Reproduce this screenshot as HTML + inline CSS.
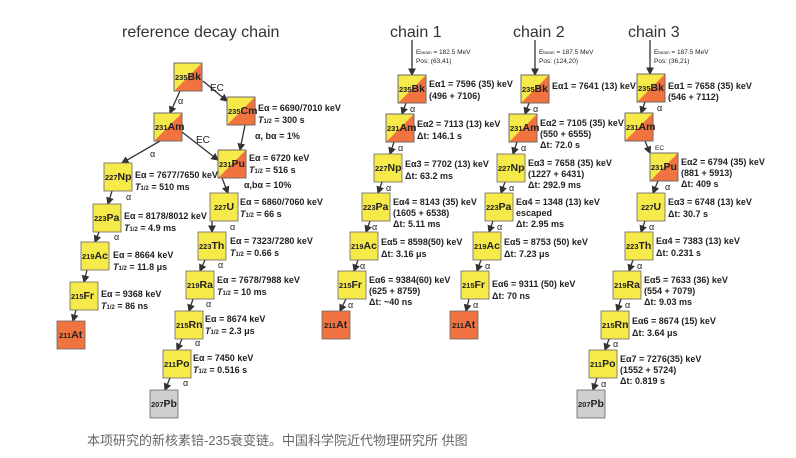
<!DOCTYPE html>
<html><head><meta charset="utf-8"><style>
body{margin:0;background:#fff;width:796px;height:458px;overflow:hidden}
svg{display:block}
text{font-family:"Liberation Sans",Arial,sans-serif;fill:#222}
.t{font-size:9px;font-weight:bold}
.s{font-size:6px}
.b{font-size:6.5px}
.h{font-size:16px;fill:#333}
.m{font-size:7.5px;font-weight:bold}
.e{font-size:10.5px;font-weight:bold}
.a{font-size:9px}
line{stroke:#333;stroke-width:1.3}
.y{fill:#f6e94a;stroke:#666;stroke-width:.8}
.o{fill:#f07340}
</style></head><body>
<svg width="796" height="458" viewBox="0 0 796 458">
<defs>
<marker id="ar" markerWidth="6" markerHeight="6" refX="5" refY="3" orient="auto"><path d="M0,0 L6,3 L0,6z" fill="#333"/></marker>
<g id="sp"><rect class="y" width="28" height="28"/><polygon class="o" points="28,0 28,28 0,28"/><rect width="28" height="28" fill="none" stroke="#666" stroke-width=".8"/></g>
<g id="ye"><rect class="y" width="28" height="28"/></g>
<g id="or"><rect width="28" height="28" fill="#f07340" stroke="#666" stroke-width=".8"/></g>
<g id="gr"><rect width="28" height="28" fill="#cfcfcf" stroke="#666" stroke-width=".8"/></g>
</defs>

<text class="h" x="122" y="37">reference decay chain</text>
<text class="h" x="390" y="37">chain 1</text>
<text class="h" x="513" y="37">chain 2</text>
<text class="h" x="628" y="37">chain 3</text>

<g marker-end="url(#ar)">
<line x1="180" y1="91" x2="170" y2="113"/>
<line x1="203" y1="81" x2="227" y2="101"/>
<line x1="245" y1="125" x2="240" y2="150"/>
<line x1="160" y1="141" x2="122" y2="163"/>
<line x1="182" y1="132" x2="218" y2="160"/>
<line x1="222" y1="178" x2="228" y2="193"/>
<line x1="112" y1="191" x2="108" y2="204"/>
<line x1="212" y1="221" x2="212" y2="232"/>
<line x1="99" y1="232" x2="95" y2="242"/>
<line x1="205" y1="260" x2="200" y2="271"/>
<line x1="87" y1="270" x2="84" y2="282"/>
<line x1="193" y1="299" x2="189" y2="311"/>
<line x1="76" y1="310" x2="73" y2="321"/>
<line x1="182" y1="339" x2="177" y2="350"/>
<line x1="170" y1="378" x2="165" y2="390"/>
</g>
<text class="a" x="178" y="104">α</text><text class="a" x="210" y="91" style="font-size:10px">EC</text>
<text class="a" x="150" y="157">α</text><text class="a" x="196" y="143" style="font-size:10px">EC</text>
<text class="t" x="255" y="139">α, bα = 1%</text>
<text class="t" x="244" y="188">α,bα = 10%</text>
<text class="a" x="126" y="200">α</text><text class="a" x="114" y="240">α</text>
<text class="a" x="230" y="230">α</text><text class="a" x="218" y="268">α</text>
<text class="a" x="206" y="307">α</text><text class="a" x="195" y="346">α</text>
<text class="a" x="183" y="386">α</text>

<use href="#sp" x="174" y="63"/><text x="175" y="80"><tspan class="m">235</tspan><tspan class="e">Bk</tspan></text>
<use href="#sp" x="227" y="97"/><text x="228" y="114"><tspan class="m">235</tspan><tspan class="e">Cm</tspan></text>
<use href="#sp" x="154" y="113"/><text x="155" y="130"><tspan class="m">231</tspan><tspan class="e">Am</tspan></text>
<use href="#sp" x="218" y="150"/><text x="219" y="167"><tspan class="m">231</tspan><tspan class="e">Pu</tspan></text>
<use href="#ye" x="104" y="163"/><text x="105" y="180"><tspan class="m">227</tspan><tspan class="e">Np</tspan></text>
<use href="#ye" x="210" y="193"/><text x="214" y="210"><tspan class="m">227</tspan><tspan class="e">U</tspan></text>
<use href="#ye" x="93" y="204"/><text x="94" y="221"><tspan class="m">223</tspan><tspan class="e">Pa</tspan></text>
<use href="#ye" x="198" y="232"/><text x="199" y="249"><tspan class="m">223</tspan><tspan class="e">Th</tspan></text>
<use href="#ye" x="81" y="242"/><text x="82" y="259"><tspan class="m">219</tspan><tspan class="e">Ac</tspan></text>
<use href="#ye" x="186" y="271"/><text x="187" y="288"><tspan class="m">219</tspan><tspan class="e">Ra</tspan></text>
<use href="#ye" x="70" y="282"/><text x="71" y="299"><tspan class="m">215</tspan><tspan class="e">Fr</tspan></text>
<use href="#ye" x="175" y="311"/><text x="176" y="328"><tspan class="m">215</tspan><tspan class="e">Rn</tspan></text>
<use href="#or" x="57" y="321"/><text x="59" y="338"><tspan class="m">211</tspan><tspan class="e">At</tspan></text>
<use href="#ye" x="163" y="350"/><text x="164" y="367"><tspan class="m">211</tspan><tspan class="e">Po</tspan></text>
<use href="#gr" x="150" y="390"/><text x="151" y="407"><tspan class="m">207</tspan><tspan class="e">Pb</tspan></text>

<g class="t">
<text x="258" y="111">Eα = 6690/7010 keV</text><text x="258" y="123"><tspan font-style="italic">T</tspan><tspan class="s">1/2</tspan> = 300 s</text>
<text x="249" y="161">Eα = 6720 keV</text><text x="249" y="173"><tspan font-style="italic">T</tspan><tspan class="s">1/2</tspan> = 516 s</text>
<text x="135" y="178">Eα = 7677/7650 keV</text><text x="135" y="190"><tspan font-style="italic">T</tspan><tspan class="s">1/2</tspan> = 510 ms</text>
<text x="240" y="205">Eα = 6860/7060 keV</text><text x="240" y="217"><tspan font-style="italic">T</tspan><tspan class="s">1/2</tspan> = 66 s</text>
<text x="124" y="219">Eα = 8178/8012 keV</text><text x="124" y="231"><tspan font-style="italic">T</tspan><tspan class="s">1/2</tspan> = 4.9 ms</text>
<text x="230" y="244">Eα = 7323/7280 keV</text><text x="230" y="256"><tspan font-style="italic">T</tspan><tspan class="s">1/2</tspan> = 0.66 s</text>
<text x="113" y="258">Eα = 8664 keV</text><text x="113" y="270"><tspan font-style="italic">T</tspan><tspan class="s">1/2</tspan> = 11.8 μs</text>
<text x="217" y="283">Eα = 7678/7988 keV</text><text x="217" y="295"><tspan font-style="italic">T</tspan><tspan class="s">1/2</tspan> = 10 ms</text>
<text x="101" y="297">Eα = 9368 keV</text><text x="101" y="309"><tspan font-style="italic">T</tspan><tspan class="s">1/2</tspan> = 86 ns</text>
<text x="205" y="322">Eα = 8674 keV</text><text x="205" y="334"><tspan font-style="italic">T</tspan><tspan class="s">1/2</tspan> = 2.3 μs</text>
<text x="193" y="361">Eα = 7450 keV</text><text x="193" y="373"><tspan font-style="italic">T</tspan><tspan class="s">1/2</tspan> = 0.516 s</text>
</g>

<g marker-end="url(#ar)">
<line x1="412" y1="40" x2="412" y2="75"/>
<line x1="535" y1="40" x2="535" y2="75"/>
<line x1="650" y1="40" x2="650" y2="74"/>
</g>
<text class="b" x="416" y="54">E<tspan font-size="4.5">beam</tspan> = 182.5 MeV</text><text class="b" x="416" y="63">Pos: (63,41)</text>
<text class="b" x="539" y="54">E<tspan font-size="4.5">beam</tspan> = 187.5 MeV</text><text class="b" x="539" y="63">Pos: (124,20)</text>
<text class="b" x="654" y="54">E<tspan font-size="4.5">beam</tspan> = 187.5 MeV</text><text class="b" x="654" y="63">Pos: (36,21)</text>

<g marker-end="url(#ar)">
<line x1="406" y1="103" x2="402" y2="114"/><line x1="394" y1="142" x2="390" y2="154"/><line x1="382" y1="182" x2="378" y2="193"/><line x1="370" y1="221" x2="366" y2="232"/><line x1="358" y1="260" x2="354" y2="271"/><line x1="346" y1="299" x2="340" y2="311"/>
<line x1="529" y1="103" x2="525" y2="114"/><line x1="517" y1="142" x2="513" y2="154"/><line x1="505" y1="182" x2="501" y2="193"/><line x1="493" y1="221" x2="489" y2="232"/><line x1="481" y1="260" x2="477" y2="271"/><line x1="469" y1="299" x2="466" y2="311"/>
<line x1="645" y1="102" x2="641" y2="113"/><line x1="645" y1="141" x2="650" y2="153"/><line x1="658" y1="181" x2="653" y2="193"/><line x1="645" y1="221" x2="641" y2="232"/><line x1="633" y1="260" x2="629" y2="271"/><line x1="621" y1="299" x2="617" y2="311"/><line x1="609" y1="339" x2="605" y2="350"/><line x1="597" y1="378" x2="593" y2="390"/>
</g>
<g class="a">
<text x="410" y="112">α</text><text x="398" y="151">α</text><text x="386" y="191">α</text><text x="372" y="230">α</text><text x="360" y="269">α</text><text x="348" y="308">α</text>
<text x="533" y="112">α</text><text x="521" y="151">α</text><text x="509" y="191">α</text><text x="497" y="230">α</text><text x="485" y="269">α</text><text x="473" y="308">α</text>
<text x="657" y="111">α</text><text x="655" y="150" class="b">EC</text><text x="665" y="190">α</text><text x="649" y="230">α</text><text x="637" y="269">α</text><text x="625" y="308">α</text><text x="613" y="347">α</text><text x="601" y="387">α</text>
</g>

<use href="#sp" x="398" y="75"/><text x="399" y="92"><tspan class="m">235</tspan><tspan class="e">Bk</tspan></text>
<use href="#sp" x="386" y="114"/><text x="387" y="131"><tspan class="m">231</tspan><tspan class="e">Am</tspan></text>
<use href="#ye" x="374" y="154"/><text x="375" y="171"><tspan class="m">227</tspan><tspan class="e">Np</tspan></text>
<use href="#ye" x="362" y="193"/><text x="363" y="210"><tspan class="m">223</tspan><tspan class="e">Pa</tspan></text>
<use href="#ye" x="350" y="232"/><text x="351" y="249"><tspan class="m">219</tspan><tspan class="e">Ac</tspan></text>
<use href="#ye" x="338" y="271"/><text x="339" y="288"><tspan class="m">215</tspan><tspan class="e">Fr</tspan></text>
<use href="#or" x="322" y="311"/><text x="324" y="328"><tspan class="m">211</tspan><tspan class="e">At</tspan></text>
<use href="#sp" x="521" y="75"/><text x="522" y="92"><tspan class="m">235</tspan><tspan class="e">Bk</tspan></text>
<use href="#sp" x="509" y="114"/><text x="510" y="131"><tspan class="m">231</tspan><tspan class="e">Am</tspan></text>
<use href="#ye" x="497" y="154"/><text x="498" y="171"><tspan class="m">227</tspan><tspan class="e">Np</tspan></text>
<use href="#ye" x="485" y="193"/><text x="486" y="210"><tspan class="m">223</tspan><tspan class="e">Pa</tspan></text>
<use href="#ye" x="473" y="232"/><text x="474" y="249"><tspan class="m">219</tspan><tspan class="e">Ac</tspan></text>
<use href="#ye" x="461" y="271"/><text x="462" y="288"><tspan class="m">215</tspan><tspan class="e">Fr</tspan></text>
<use href="#or" x="450" y="311"/><text x="452" y="328"><tspan class="m">211</tspan><tspan class="e">At</tspan></text>
<use href="#sp" x="637" y="74"/><text x="638" y="91"><tspan class="m">235</tspan><tspan class="e">Bk</tspan></text>
<use href="#sp" x="625" y="113"/><text x="626" y="130"><tspan class="m">231</tspan><tspan class="e">Am</tspan></text>
<use href="#sp" x="650" y="153"/><text x="651" y="170"><tspan class="m">231</tspan><tspan class="e">Pu</tspan></text>
<use href="#ye" x="637" y="193"/><text x="641" y="210"><tspan class="m">227</tspan><tspan class="e">U</tspan></text>
<use href="#ye" x="625" y="232"/><text x="626" y="249"><tspan class="m">223</tspan><tspan class="e">Th</tspan></text>
<use href="#ye" x="613" y="271"/><text x="614" y="288"><tspan class="m">219</tspan><tspan class="e">Ra</tspan></text>
<use href="#ye" x="601" y="311"/><text x="602" y="328"><tspan class="m">215</tspan><tspan class="e">Rn</tspan></text>
<use href="#ye" x="589" y="350"/><text x="590" y="367"><tspan class="m">211</tspan><tspan class="e">Po</tspan></text>
<use href="#gr" x="577" y="390"/><text x="578" y="407"><tspan class="m">207</tspan><tspan class="e">Pb</tspan></text>

<g class="t">
<text x="429" y="87">Eα1 = 7596 (35) keV</text><text x="429" y="99">(496 + 7106)</text>
<text x="417" y="127">Eα2 = 7113 (13) keV</text><text x="417" y="139">Δt: 146.1 s</text>
<text x="405" y="167">Eα3 = 7702 (13) keV</text><text x="405" y="179">Δt: 63.2 ms</text>
<text x="393" y="205">Eα4 = 8143 (35) keV</text><text x="393" y="216">(1605 + 6538)</text><text x="393" y="227">Δt: 5.11 ms</text>
<text x="381" y="245">Eα5 = 8598(50) keV</text><text x="381" y="257">Δt: 3.16 μs</text>
<text x="369" y="283">Eα6 = 9384(60) keV</text><text x="369" y="294">(625 + 8759)</text><text x="369" y="305">Δt: ~40 ns</text>

<text x="552" y="89">Eα1 = 7641 (13) keV</text>
<text x="540" y="126">Eα2 = 7105 (35) keV</text><text x="540" y="137">(550 + 6555)</text><text x="540" y="148">Δt: 72.0 s</text>
<text x="528" y="166">Eα3 = 7658 (35) keV</text><text x="528" y="177">(1227 + 6431)</text><text x="528" y="188">Δt: 292.9 ms</text>
<text x="516" y="205">Eα4 = 1348 (13) keV</text><text x="516" y="216">escaped</text><text x="516" y="227">Δt: 2.95 ms</text>
<text x="504" y="245">Eα5 = 8753 (50) keV</text><text x="504" y="257">Δt: 7.23 μs</text>
<text x="492" y="287">Eα6 = 9311 (50) keV</text><text x="492" y="299">Δt: 70 ns</text>

<text x="668" y="89">Eα1 = 7658 (35) keV</text><text x="668" y="100">(546 + 7112)</text>
<text x="681" y="165">Eα2 = 6794 (35) keV</text><text x="681" y="176">(881 + 5913)</text><text x="681" y="187">Δt: 409 s</text>
<text x="668" y="205">Eα3 = 6748 (13) keV</text><text x="668" y="217">Δt: 30.7 s</text>
<text x="656" y="244">Eα4 = 7383 (13) keV</text><text x="656" y="256">Δt: 0.231 s</text>
<text x="644" y="283">Eα5 = 7633 (36) keV</text><text x="644" y="294">(554 + 7079)</text><text x="644" y="305">Δt: 9.03 ms</text>
<text x="632" y="324">Eα6 = 8674 (15) keV</text><text x="632" y="336">Δt: 3.64 μs</text>
<text x="620" y="362">Eα7 = 7276(35) keV</text><text x="620" y="373">(1552 + 5724)</text><text x="620" y="384">Δt: 0.819 s</text>
</g>

<text x="87" y="445" style="font-size:13px;fill:#666;font-family:'Liberation Sans','Noto Sans CJK SC',sans-serif">本项研究的新核素锫-235衰变链。中国科学院近代物理研究所 供图</text>
</svg>
</body></html>
